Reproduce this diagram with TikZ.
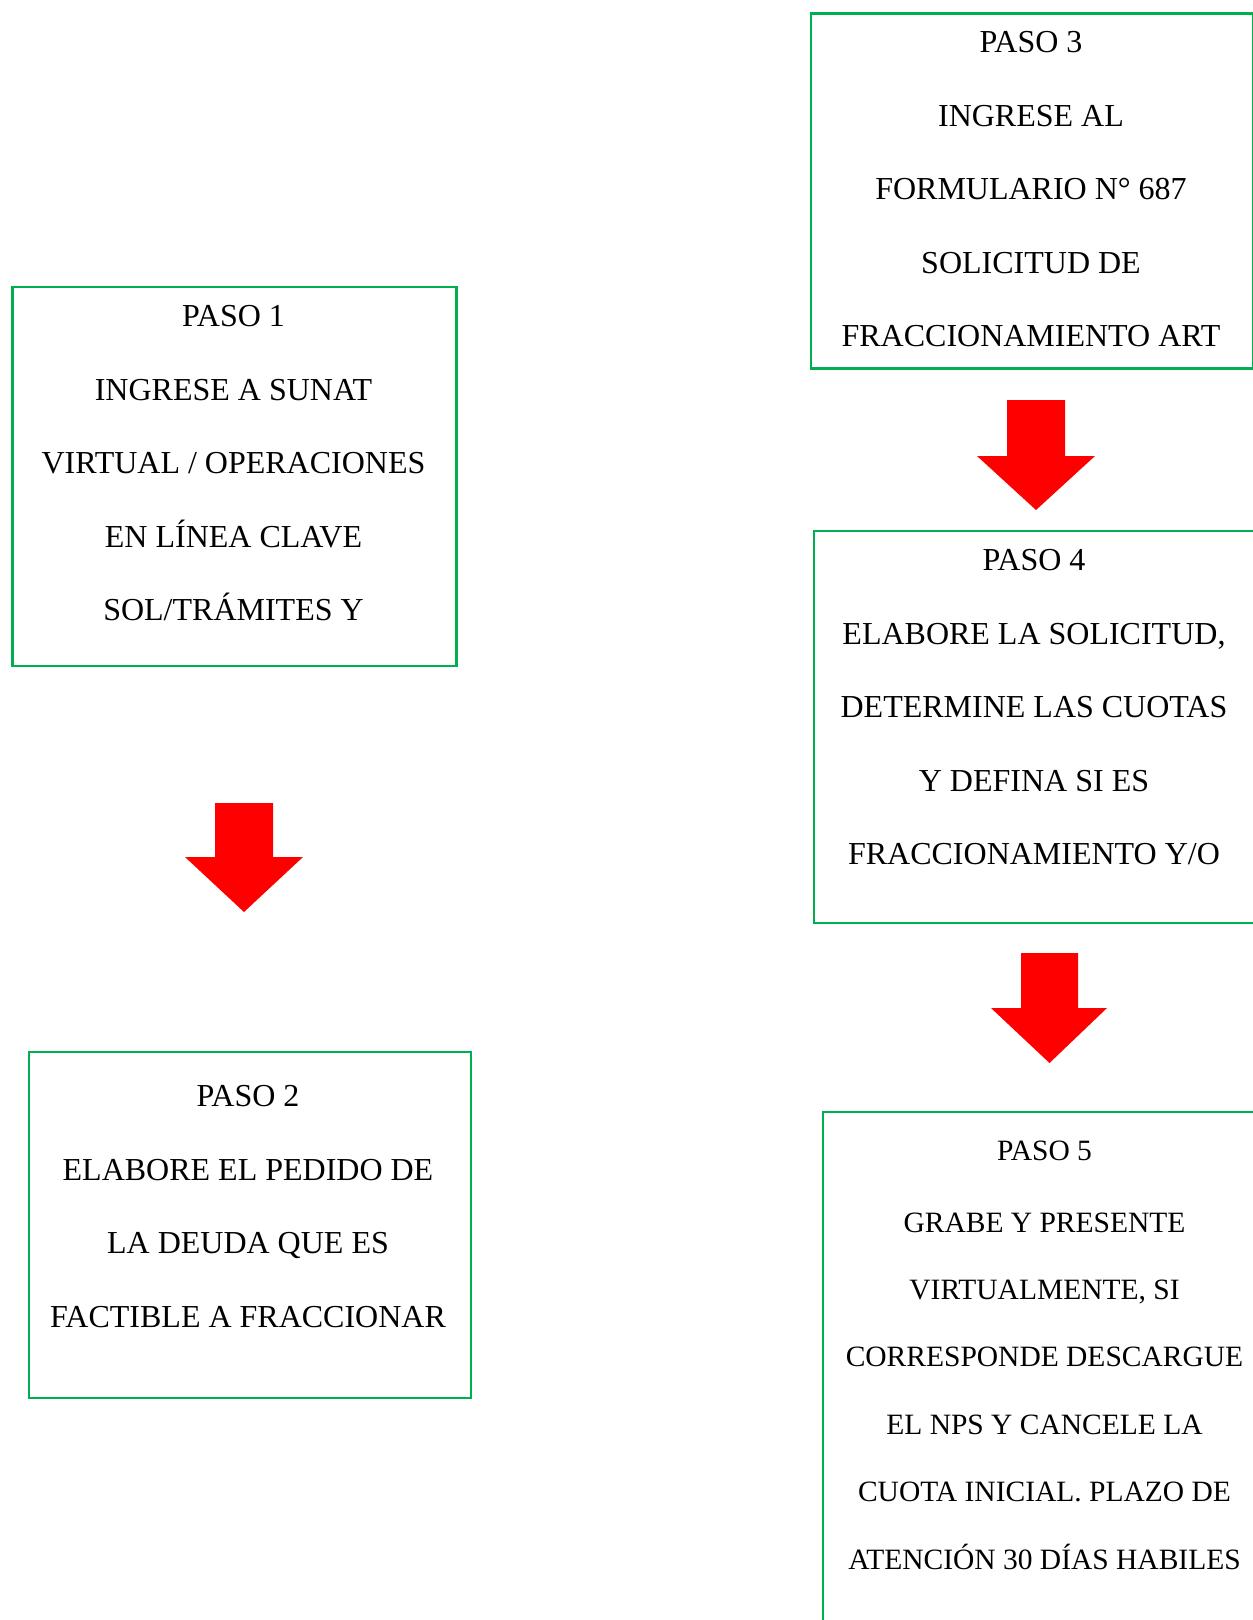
\documentclass[tikz,border=0pt]{standalone}
\usepackage{fontspec}
\setmainfont{Liberation Serif}
\definecolor{boxgreen}{HTML}{00B050}
\definecolor{arrowred}{HTML}{FF0000}
\begin{document}
\begin{tikzpicture}[x=1pt,y=-1pt,
  stepbox/.style={draw=boxgreen, line width=2.2pt, anchor=north west, inner sep=0pt, minimum width=#1},
  steptext/.style={inner sep=0pt, align=center, anchor=north, font=\fontsize{32}{73.5}\selectfont},
  steptextb/.style={inner sep=0pt, align=center, anchor=north, font=\fontsize{29.5}{67.4}\selectfont},
  blockarrow/.style={fill=arrowred, draw=none}]
\useasboundingbox (0,0) rectangle (1253,1620);

% boxes
\node[stepbox=444pt, minimum height=379pt] (b1) at (11.4,286) {};
\node[stepbox=442pt, minimum height=346pt] (b2) at (28,1051) {};
\node[stepbox=442pt, minimum height=355pt] (b3) at (810,12.4) {};
\node[stepbox=442pt, minimum height=392pt] (b4) at (813,530) {};
\node[stepbox=442pt, minimum height=589pt] (b5) at (822,1111) {};

% texts
\node[steptext] (t1) at (233.5,305.5) {PASO 1\\INGRESE A SUNAT\\VIRTUAL / OPERACIONES\\EN LÍNEA CLAVE\\SOL/TRÁMITES Y};
\node[steptext] (t2) at (248,1085.5) {PASO 2\\ELABORE EL PEDIDO DE\\LA DEUDA QUE ES\\FACTIBLE A FRACCIONAR};
\node[steptext] (t3) at (1031,31.5) {PASO 3\\INGRESE AL\\FORMULARIO N° 687\\SOLICITUD DE\\FRACCIONAMIENTO ART};
\node[steptext] (t4) at (1034,549.5) {PASO 4\\ELABORE LA SOLICITUD,\\DETERMINE LAS CUOTAS\\Y DEFINA SI ES\\FRACCIONAMIENTO Y/O};
\node[steptextb] (t5) at (1044.5,1140.3) {PASO 5\\[4.6pt]GRABE Y PRESENTE\\VIRTUALMENTE, SI\\CORRESPONDE DESCARGUE\\EL NPS Y CANCELE LA\\CUOTA INICIAL. PLAZO DE\\ATENCIÓN 30 DÍAS HABILES};

% block arrows
\fill[blockarrow] (215,803) -- (273,803) -- (273,857) -- (303,857) -- (244,912) -- (185,857) -- (215,857) -- cycle;
\fill[blockarrow] (1007,400) -- (1065,400) -- (1065,456) -- (1095,456) -- (1036,510) -- (977,456) -- (1007,456) -- cycle;
\fill[blockarrow] (1021,953) -- (1078,953) -- (1078,1008) -- (1107,1008) -- (1049.5,1063) -- (991,1008) -- (1021,1008) -- cycle;
\end{tikzpicture}
\end{document}
